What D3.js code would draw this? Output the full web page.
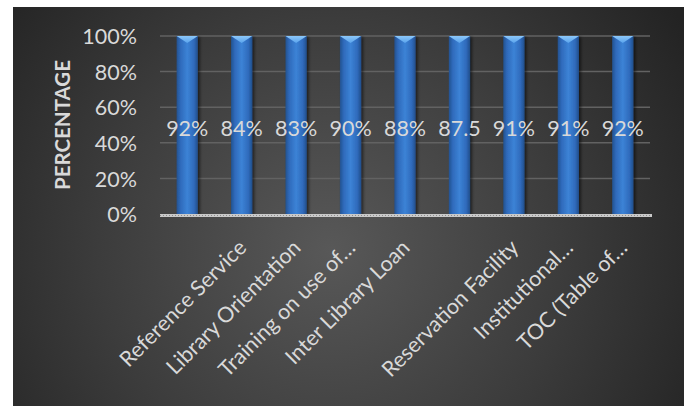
<!DOCTYPE html>
<html>
<head>
<meta charset="utf-8">
<script src="https://cdn.jsdelivr.net/npm/d3@7"></script>
<style>
  html, body { margin: 0; padding: 0; background: #ffffff; }
  svg { display: block; }
</style>
</head>
<body>
<svg id="chart" width="684" height="406"></svg>
<script>
// Library services: share of respondents rating each service
const categories = ["", "Reference Service", "Library Orientation", "Training on use of\u2026",
  "Inter Library Loan", "", "Reservation Facility", "Institutional\u2026", "TOC (Table of\u2026"];
const values = [92, 84, 83, 90, 88, 87.5, 91, 91, 92];
const valueLabels = ["92%", "84%", "83%", "90%", "88%", "87.5", "91%", "91%", "92%"];
const yTickValues = [0, 0.2, 0.4, 0.6, 0.8, 1.0];
const yTitle = "PERCENTAGE";

const W = 684, H = 406;
const plot = { left: 160, right: 650, top: 36, bottom: 214 };
const FONT = "Lato, 'Open Sans', sans-serif";
const TEXT = "#d9d9d9";

const svg = d3.select("#chart");
const defs = svg.append("defs");

// dark panel with a soft radial glow
const bg = defs.append("radialGradient").attr("id", "bg")
  .attr("gradientUnits", "userSpaceOnUse")
  .attr("cx", 330).attr("cy", 250).attr("r", 420);
bg.append("stop").attr("offset", 0).attr("stop-color", "#585858");
bg.append("stop").attr("offset", 0.55).attr("stop-color", "#3c3c3c");
bg.append("stop").attr("offset", 1).attr("stop-color", "#232323");

// bar body: darker edges, bright middle
const barGrad = defs.append("linearGradient").attr("id", "barGrad")
  .attr("x1", 0).attr("x2", 1).attr("y1", 0).attr("y2", 0);
[[0, "#23528f"], [0.18, "#2f6abb"], [0.5, "#3c83d6"], [0.82, "#2f6abb"], [1, "#214e8a"]]
  .forEach(([o, c]) => barGrad.append("stop").attr("offset", o).attr("stop-color", c));

const capGrad = defs.append("linearGradient").attr("id", "capGrad")
  .attr("x1", 0).attr("x2", 0).attr("y1", 0).attr("y2", 1);
capGrad.append("stop").attr("offset", 0).attr("stop-color", "#8cc8fa");
capGrad.append("stop").attr("offset", 1).attr("stop-color", "#5aa3ec");

const shadow = defs.append("filter").attr("id", "shadow")
  .attr("x", "-50%").attr("y", "-10%").attr("width", "200%").attr("height", "120%");
shadow.append("feDropShadow").attr("dx", 2).attr("dy", 1).attr("stdDeviation", 1.6)
  .attr("flood-color", "#000").attr("flood-opacity", 0.55);

svg.append("rect").attr("x", 13).attr("y", 7).attr("width", W - 13).attr("height", H - 7)
  .attr("fill", "url(#bg)");

// scales
const x = d3.scaleBand().domain(d3.range(categories.length))
  .range([plot.left, plot.right]).paddingInner(0.61).paddingOuter(0.305);
const y = d3.scaleLinear().domain([0, 1]).range([plot.bottom, plot.top]);

// 100% stacked layout: each column is normalised to its own total
const rows = values.map((v, i) => ({ i, v }));
const stacked = d3.stack().keys(["v"]).offset(d3.stackOffsetExpand)(rows)[0];

// gridlines
svg.append("g").selectAll("line").data(yTickValues.filter(d => d > 0)).join("line")
  .attr("x1", plot.left).attr("x2", plot.right)
  .attr("y1", d => y(d)).attr("y2", d => y(d))
  .attr("stroke", "#626262").attr("stroke-width", 1.5);

// y axis labels
const yAxis = svg.append("g").attr("transform", `translate(${plot.left},0)`)
  .call(d3.axisLeft(y).tickValues(yTickValues).tickFormat(d3.format(".0%")).tickSize(0).tickPadding(23));
yAxis.select(".domain").remove();
yAxis.selectAll("text").attr("fill", TEXT).style("font-family", FONT).style("font-size", "21.5px")
  .attr("dy", "0.36em");

// y title
svg.append("text")
  .attr("transform", `translate(70,125) rotate(-90)`)
  .attr("text-anchor", "middle")
  .attr("fill", TEXT).style("font-family", FONT).style("font-size", "20.5px").style("font-weight", "bold")
  .text(yTitle);

// bars
const bars = svg.append("g").selectAll("g").data(stacked).join("g")
  .attr("filter", "url(#shadow)");
bars.append("rect")
  .attr("x", d => x(d.data.i))
  .attr("y", d => y(d[1]))
  .attr("width", x.bandwidth())
  .attr("height", d => y(d[0]) - y(d[1]))
  .attr("fill", "url(#barGrad)");
bars.append("path")
  .attr("d", d => {
    const x0 = x(d.data.i), x1 = x0 + x.bandwidth(), top = y(d[1]);
    return `M${x0},${top}L${x1},${top}L${(x0 + x1) / 2},${top + 7}Z`;
  })
  .attr("fill", "url(#capGrad)");

// x axis line (light hatched band)
svg.append("line")
  .attr("x1", plot.left).attr("x2", plot.right + 2)
  .attr("y1", y(0) + 1.5).attr("y2", y(0) + 1.5)
  .attr("stroke", "#c9c9c9").attr("stroke-width", 3);
svg.append("line")
  .attr("x1", plot.left).attr("x2", plot.right + 2)
  .attr("y1", y(0) + 1.5).attr("y2", y(0) + 1.5)
  .attr("stroke", "#8a8a8a").attr("stroke-width", 1).attr("stroke-dasharray", "1,2");

// value labels
svg.append("g").selectAll("text").data(stacked).join("text")
  .attr("x", d => x(d.data.i) + x.bandwidth() / 2)
  .attr("y", 136)
  .attr("text-anchor", "middle")
  .attr("fill", TEXT).style("font-family", FONT).style("font-size", "21.5px")
  .text((d, i) => valueLabels[i]);

// category labels, rotated
const xAxis = svg.append("g").attr("transform", `translate(0,${plot.bottom})`)
  .call(d3.axisBottom(x).tickFormat(i => categories[i]).tickSize(0));
xAxis.select(".domain").remove();
xAxis.selectAll("text")
  .attr("fill", TEXT).style("font-family", FONT).style("font-size", "21.5px")
  .attr("text-anchor", "end")
  .attr("x", 0).attr("y", 0).attr("dy", 0)
  .attr("transform", "translate(6,35) rotate(-45)");
</script>
</body>
</html>
